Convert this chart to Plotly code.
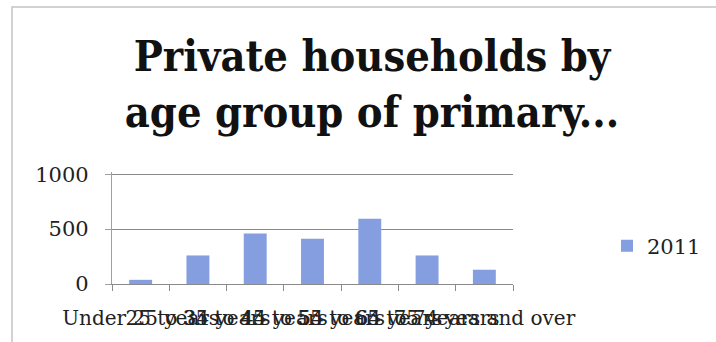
import plotly.graph_objects as go

categories = ["Under 25 years", "25 to 34 years", "35 to 44 years", "45 to 54 years",
              "55 to 64 years", "65 to 74 years", "75 years and over"]
values_2011 = [38, 260, 460, 412, 595, 260, 130]
series_name = "2011"
y_ticks = [0, 500, 1000]

W, H = 716, 342
ML, MR, MT, MB = 112, 203, 172, 58

fig = go.Figure()
fig.add_trace(go.Bar(x=categories, y=values_2011, name=series_name,
                     marker=dict(color="#849ee0", line=dict(width=0))))

pw = W - ML - MR
ph = H - MT - MB
# chart frame (cropped at right/bottom)
fx0 = (12 - ML) / pw
fy1 = (H - MB - 7) / ph
fig.add_shape(type="rect", xref="paper", yref="paper", x0=fx0, x1=(W + 20 - ML) / pw,
              y0=-(MB + 20) / ph, y1=fy1, line=dict(color="#c4c4c4", width=1.5),
              fillcolor="rgba(0,0,0,0)", layer="below")

fig.update_layout(
    width=W, height=H,
    margin=dict(l=ML, r=MR, t=MT, b=MB),
    paper_bgcolor="white", plot_bgcolor="white",
    bargap=0.6,
    showlegend=True,
    title=dict(text="Private households by<br>age group of primary...",
               x=372 / W, xanchor="center", xref="container",
               y=1 - 71 / H, yanchor="top", yref="container",
               font=dict(family="DejaVu Serif Condensed, DejaVu Serif", size=43,
                         color="#111111", weight="bold")),
    legend=dict(x=607 / W, xref="container", xanchor="left",
                y=1 - 246 / H, yref="container", yanchor="middle",
                font=dict(family="DejaVu Serif", size=21, color="#222222"),
                bgcolor="rgba(0,0,0,0)"),
    font=dict(family="DejaVu Serif", color="#222222"),
)
fig.update_xaxes(type="category", tickangle=0, showline=True, linecolor="#8a8a8a", linewidth=1.2,
                 ticks="outside", tickson="boundaries", ticklen=6, tickcolor="#8a8a8a",
                 tickfont=dict(family="DejaVu Serif", size=20, color="#222222"),
                 ticklabelstandoff=16,
                 showgrid=False, fixedrange=True)
fig.update_yaxes(range=[0, 1020], tickvals=y_ticks, showline=True, linecolor="#a0a0a0",
                 linewidth=1.2, ticks="outside", ticklen=6, tickcolor="#a0a0a0",
                 showgrid=True, gridcolor="#8a8a8a", gridwidth=1.2, zeroline=False,
                 tickfont=dict(family="DejaVu Serif", size=21, color="#222222"),
                 ticklabelstandoff=12, fixedrange=True)

fig.write_html("out.html", config={"displayModeBar": False},
               post_script="document.body.style.margin='0px';")
